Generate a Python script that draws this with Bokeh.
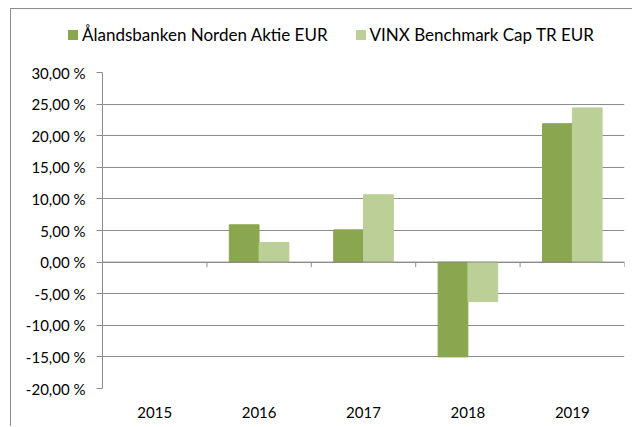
import numpy as np
from bokeh.plotting import figure
from bokeh.layouts import column
from bokeh.models import (ColumnDataSource, FactorRange, FixedTicker, CustomJSTickFormatter,
                          Span, Div)
from bokeh.transform import dodge
from bokeh.embed import file_html
from bokeh.resources import INLINE

years = ["2015", "2016", "2017", "2018", "2019"]
fund = [np.nan, 5.9, 5.1, -15.0, 21.9]
bench = [np.nan, 3.1, 10.65, -6.25, 24.4]
series_names = ["Ålandsbanken Norden Aktie EUR", "VINX Benchmark Cap TR EUR"]
y_ticks = [-20, -15, -10, -5, 0, 5, 10, 15, 20, 25, 30]

DARK = "#8AA64F"
LIGHT = "#BBCF97"
GRID = "#8c8c8c"
FONT = "Lato"

src = ColumnDataSource(dict(year=years, fund=np.array(fund, dtype=float),
                            bench=np.array(bench, dtype=float)))

# ---- main chart ----
p = figure(x_range=FactorRange(factors=years, range_padding=0), y_range=(-20, 30),
           width=622, height=369, output_backend="svg", toolbar_location=None,
           min_border_left=91, min_border_right=9, min_border_top=14, min_border_bottom=39)
p.outline_line_color = None
p.background_fill_color = "white"
p.border_fill_color = "white"

r1 = p.vbar(x=dodge("year", -0.143, range=p.x_range), top="fund", bottom=0, width=0.285,
            source=src, fill_color=DARK, line_color=DARK)
r2 = p.vbar(x=dodge("year", 0.143, range=p.x_range), top="bench", bottom=0, width=0.285,
            source=src, fill_color=LIGHT, line_color=LIGHT)

# zero line with category boundary ticks
p.add_layout(Span(location=0, dimension="width", line_color=GRID, line_width=1))
p.segment(x0=dodge("year", 0.5, range=p.x_range), y0=0,
          x1=dodge("year", 0.5, range=p.x_range), y1=-0.8,
          source=src, line_color=GRID, line_width=1)

# y axis
p.yaxis.ticker = FixedTicker(ticks=y_ticks)
p.yaxis.formatter = CustomJSTickFormatter(code="return tick.toFixed(2).replace('.', ',') + ' %';")
p.yaxis.axis_line_color = GRID
p.yaxis.major_tick_line_color = GRID
p.yaxis.major_tick_out = 6
p.yaxis.major_tick_in = 0
p.yaxis.minor_tick_line_color = None
p.yaxis.major_label_standoff = 11
p.yaxis.major_label_text_font = FONT
p.yaxis.major_label_text_font_size = "15px"
p.yaxis.major_label_text_color = "#000000"

p.ygrid.ticker = FixedTicker(ticks=y_ticks)
p.ygrid.grid_line_color = GRID
p.xgrid.grid_line_color = None

# x axis (labels only)
p.xaxis.axis_line_color = None
p.xaxis.major_tick_line_color = None
p.xaxis.minor_tick_line_color = None
p.xaxis.major_label_standoff = 12
p.xaxis.major_label_text_font = FONT
p.xaxis.major_label_text_font_size = "15px"
p.xaxis.major_label_text_color = "#000000"

# ---- legend strip above the chart ----
def item(color, label, gap):
    return (f'<span style="display:inline-block;width:10px;height:10px;background:{color};'
            f'margin-right:4px;"></span><span style="margin-right:{gap}px;">{label}</span>')

legend_html = (f'<div style="display:flex;align-items:center;margin-left:57px;margin-top:16px;'
               f'height:20px;font-family:{FONT};font-size:17px;color:#000;white-space:nowrap;">'
               + item(DARK, series_names[0], 28) + item(LIGHT, series_names[1], 0) + '</div>')
leg = Div(text=legend_html, width=622, height=49, styles={"margin": "0", "padding": "0"})

layout = column(leg, p, spacing=0)
layout.styles = {"box-shadow": "-1px -1px 0 0 #8c8c8c", "margin-left": "11px", "margin-top": "9px"}

open("out.html", "w").write(file_html(layout, INLINE))
